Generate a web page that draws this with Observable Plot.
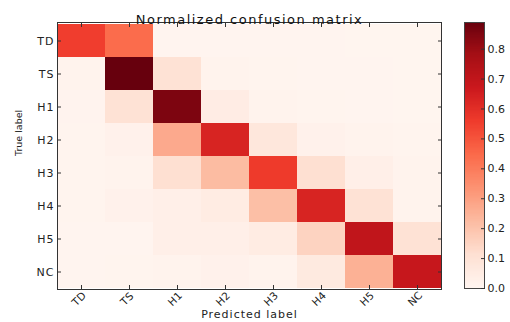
<!DOCTYPE html>
<html><head><meta charset="utf-8">
<script src="https://cdn.jsdelivr.net/npm/d3@7"></script>
<script src="https://cdn.jsdelivr.net/npm/@observablehq/plot@0.6"></script>
<style>
body{margin:0;background:#fff;}
#wrap{position:relative;width:510px;height:322px;font-family:"DejaVu Sans",sans-serif;}
#wrap svg{position:absolute;top:0;}
.ls-title text{letter-spacing:1.5px;}
.ls-xlab text{letter-spacing:1px;}
.ls-ytick text{letter-spacing:1px;}
</style></head><body><div id="wrap"></div>
<script>
const labels = ["TD","TS","H1","H2","H3","H4","H5","NC"];
const rowTD = [0.55, 0.44, 0.005, 0.004, 0.003, 0.003, 0.002, 0.002];
const rowTS = [0.01, 0.889, 0.10, 0.01, 0.006, 0.005, 0.003, 0.002];
const rowH1 = [0.008, 0.10, 0.85, 0.045, 0.012, 0.006, 0.004, 0.002];
const rowH2 = [0.006, 0.02, 0.27, 0.63, 0.075, 0.02, 0.012, 0.006];
const rowH3 = [0.006, 0.01, 0.11, 0.22, 0.56, 0.11, 0.03, 0.01];
const rowH4 = [0.006, 0.02, 0.03, 0.05, 0.21, 0.63, 0.10, 0.01];
const rowH5 = [0.005, 0.005, 0.03, 0.03, 0.05, 0.15, 0.70, 0.10];
const rowNC = [0.005, 0.006, 0.012, 0.02, 0.01, 0.06, 0.25, 0.68];
const rows = [rowTD,rowTS,rowH1,rowH2,rowH3,rowH4,rowH5,rowNC];
const vmax = 0.889;
const colorbarTicks = [0,0.1,0.2,0.3,0.4,0.5,0.6,0.7,0.8];
const redsStops = ["#fff5f0","#fee0d2","#fcbba1","#fc9272","#fb6a4a","#ef3b2c","#cb181d","#a50f15","#67000d"];

const cells = [];
rows.forEach((r,i)=>r.forEach((v,j)=>cells.push({t:labels[i], p:labels[j], v})));
const font = "DejaVu Sans";
const colorScale = {type:"linear", domain:[0,vmax], interpolate: d3.piecewise(d3.interpolateRgb, redsStops), clamp:true};

const main = Plot.plot({
  width: 460, height: 322,
  marginLeft: 57, marginRight: 19, marginTop: 22, marginBottom: 33,
  style:{fontFamily:font, fontSize:"10px", color:"#222", background:"transparent"},
  x:{domain:labels, padding:0, axis:null, label:null},
  y:{domain:labels, padding:0, axis:null, label:null},
  color: colorScale,
  marks:[
    Plot.cell(cells,{x:"p", y:"t", fill:"v", inset:0, shapeRendering:"crispEdges"}),
    Plot.frame({stroke:"#333", strokeWidth:1}),
    Plot.axisX({anchor:"bottom", tickSize:-4, text:null, label:null, stroke:"#333"}),
    Plot.axisX({anchor:"top", tickSize:-4, text:null, label:null, stroke:"#333"}),
    Plot.axisY({anchor:"left", tickSize:-4, text:null, label:null, stroke:"#333"}),
    Plot.axisY({anchor:"right", tickSize:-4, text:null, label:null, stroke:"#333"}),
    Plot.axisY({anchor:"left", tickSize:0, tickPadding:3, label:null, fontSize:11, fill:"#222", className:"ls-ytick"}),
    Plot.text(labels,{x:d=>d, frameAnchor:"bottom", dy:12, rotate:-45, textAnchor:"middle", fontSize:10.5, fill:"#222"}),
    Plot.text(["Normalized confusion matrix"],{frameAnchor:"top", dy:-8, fontSize:13, fill:"#111", className:"ls-title"}),
    Plot.text(["Predicted label"],{frameAnchor:"bottom", dy:28, fontSize:11, fill:"#222", className:"ls-xlab"}),
    Plot.text(["True label"],{frameAnchor:"left", dx:-39, rotate:-90, fontSize:9.5, fill:"#222"})
  ]
});
main.style.left = "0px";

const bar = Plot.plot({
  width: 50, height: 322,
  marginLeft: 4, marginRight: 26, marginTop: 22, marginBottom: 34,
  style:{fontFamily:font, fontSize:"10px", color:"#222", background:"transparent"},
  x:{axis:null},
  y:{domain:[0,vmax], axis:null, label:null},
  color: colorScale,
  marks:[
    Plot.rectY(d3.range(0, vmax, 0.004), {y1:d=>d, y2:d=>Math.min(vmax, d+0.0045), fill:d=>d, inset:0, shapeRendering:"crispEdges"}),
    Plot.frame({stroke:"#444", strokeWidth:1}),
    Plot.axisY(colorbarTicks, {anchor:"right", tickSize:-4, text:null, label:null, stroke:"#333"}),
    Plot.axisY(colorbarTicks, {anchor:"right", tickSize:0, tickPadding:3, tickFormat:d3.format(".1f"), label:null, fontSize:11, fill:"#222"})
  ]
});
bar.style.left = "460px";

document.getElementById("wrap").append(main, bar);
</script></body></html>
